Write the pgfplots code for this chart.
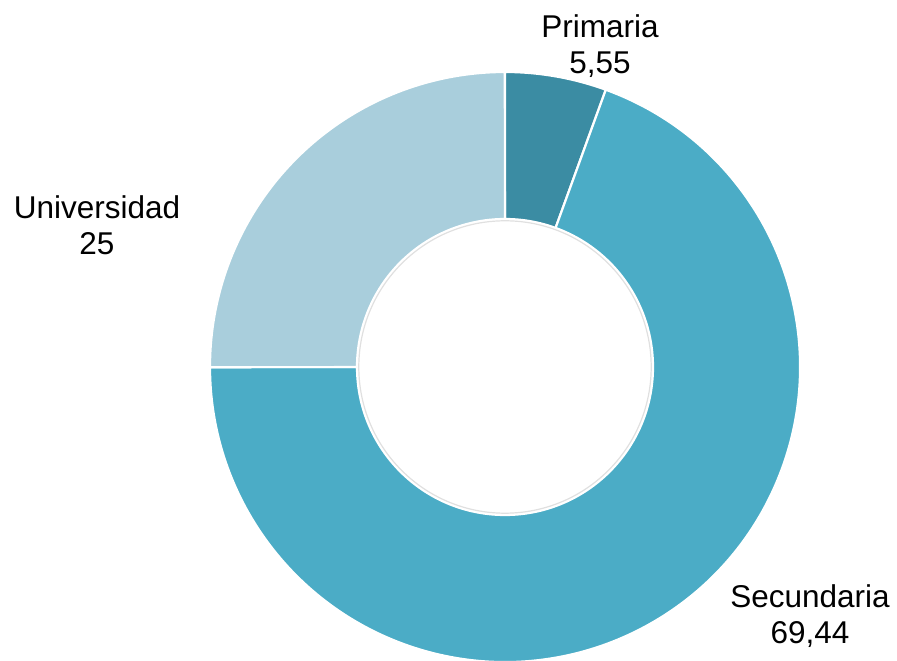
\documentclass[border=0pt]{standalone}
\usepackage{pgfplots}
\pgfplotsset{compat=1.18}
\usepackage{fontspec}
\setmainfont{Liberation Sans}
\definecolor{cPri}{HTML}{3B8CA3}
\definecolor{cSec}{HTML}{4BACC6}
\definecolor{cUni}{HTML}{A9CEDC}
% data (percent)
\def\vPri{5.55}
\def\vSec{69.44}
\def\vUni{25}
\pgfmathsetmacro{\aA}{90}
\pgfmathsetmacro{\aB}{\aA-3.6*\vPri}
\pgfmathsetmacro{\aC}{\aB-3.6*\vSec}
\pgfmathsetmacro{\aD}{\aC-3.6*\vUni}
\def\cx{505}
\def\cy{294}
\def\Ro{295}
\def\Ri{148}
\newcommand{\seg}[3]{%
  \fill[#3, draw=white, line width=2.2pt, line join=round]
    (axis cs:{\cx+\Ro*cos(#1)},{\cy+\Ro*sin(#1)})
    arc[start angle=#1, end angle=#2, radius=\Ro]
    -- (axis cs:{\cx+\Ri*cos(#2)},{\cy+\Ri*sin(#2)})
    arc[start angle=#2, end angle=#1, radius=\Ri] -- cycle;}
\begin{document}
\begin{tikzpicture}
\begin{axis}[
  scale only axis, width=897pt, height=661pt,
  xmin=0, xmax=897, ymin=0, ymax=661,
  hide axis, clip=false]
\seg{\aA}{\aB}{cPri}
\seg{\aB}{\aC}{cSec}
\seg{\aC}{\aD}{cUni}
\draw[black!12, line width=1.2pt] (axis cs:\cx,\cy) circle[radius=\Ri-1.8];
\node[align=center, font=\fontsize{31.5}{36.5}\selectfont] at (axis cs:600,615) {Primaria\\5,55};
\node[align=center, font=\fontsize{31.5}{36.5}\selectfont] at (axis cs:97,436) {Universidad\\25};
\node[align=center, font=\fontsize{31.5}{36.5}\selectfont] at (axis cs:810,45) {Secundaria\\69,44};
\end{axis}
\pgfresetboundingbox
\path[use as bounding box] (current axis.south west) rectangle (current axis.north east);
\end{tikzpicture}
\end{document}
